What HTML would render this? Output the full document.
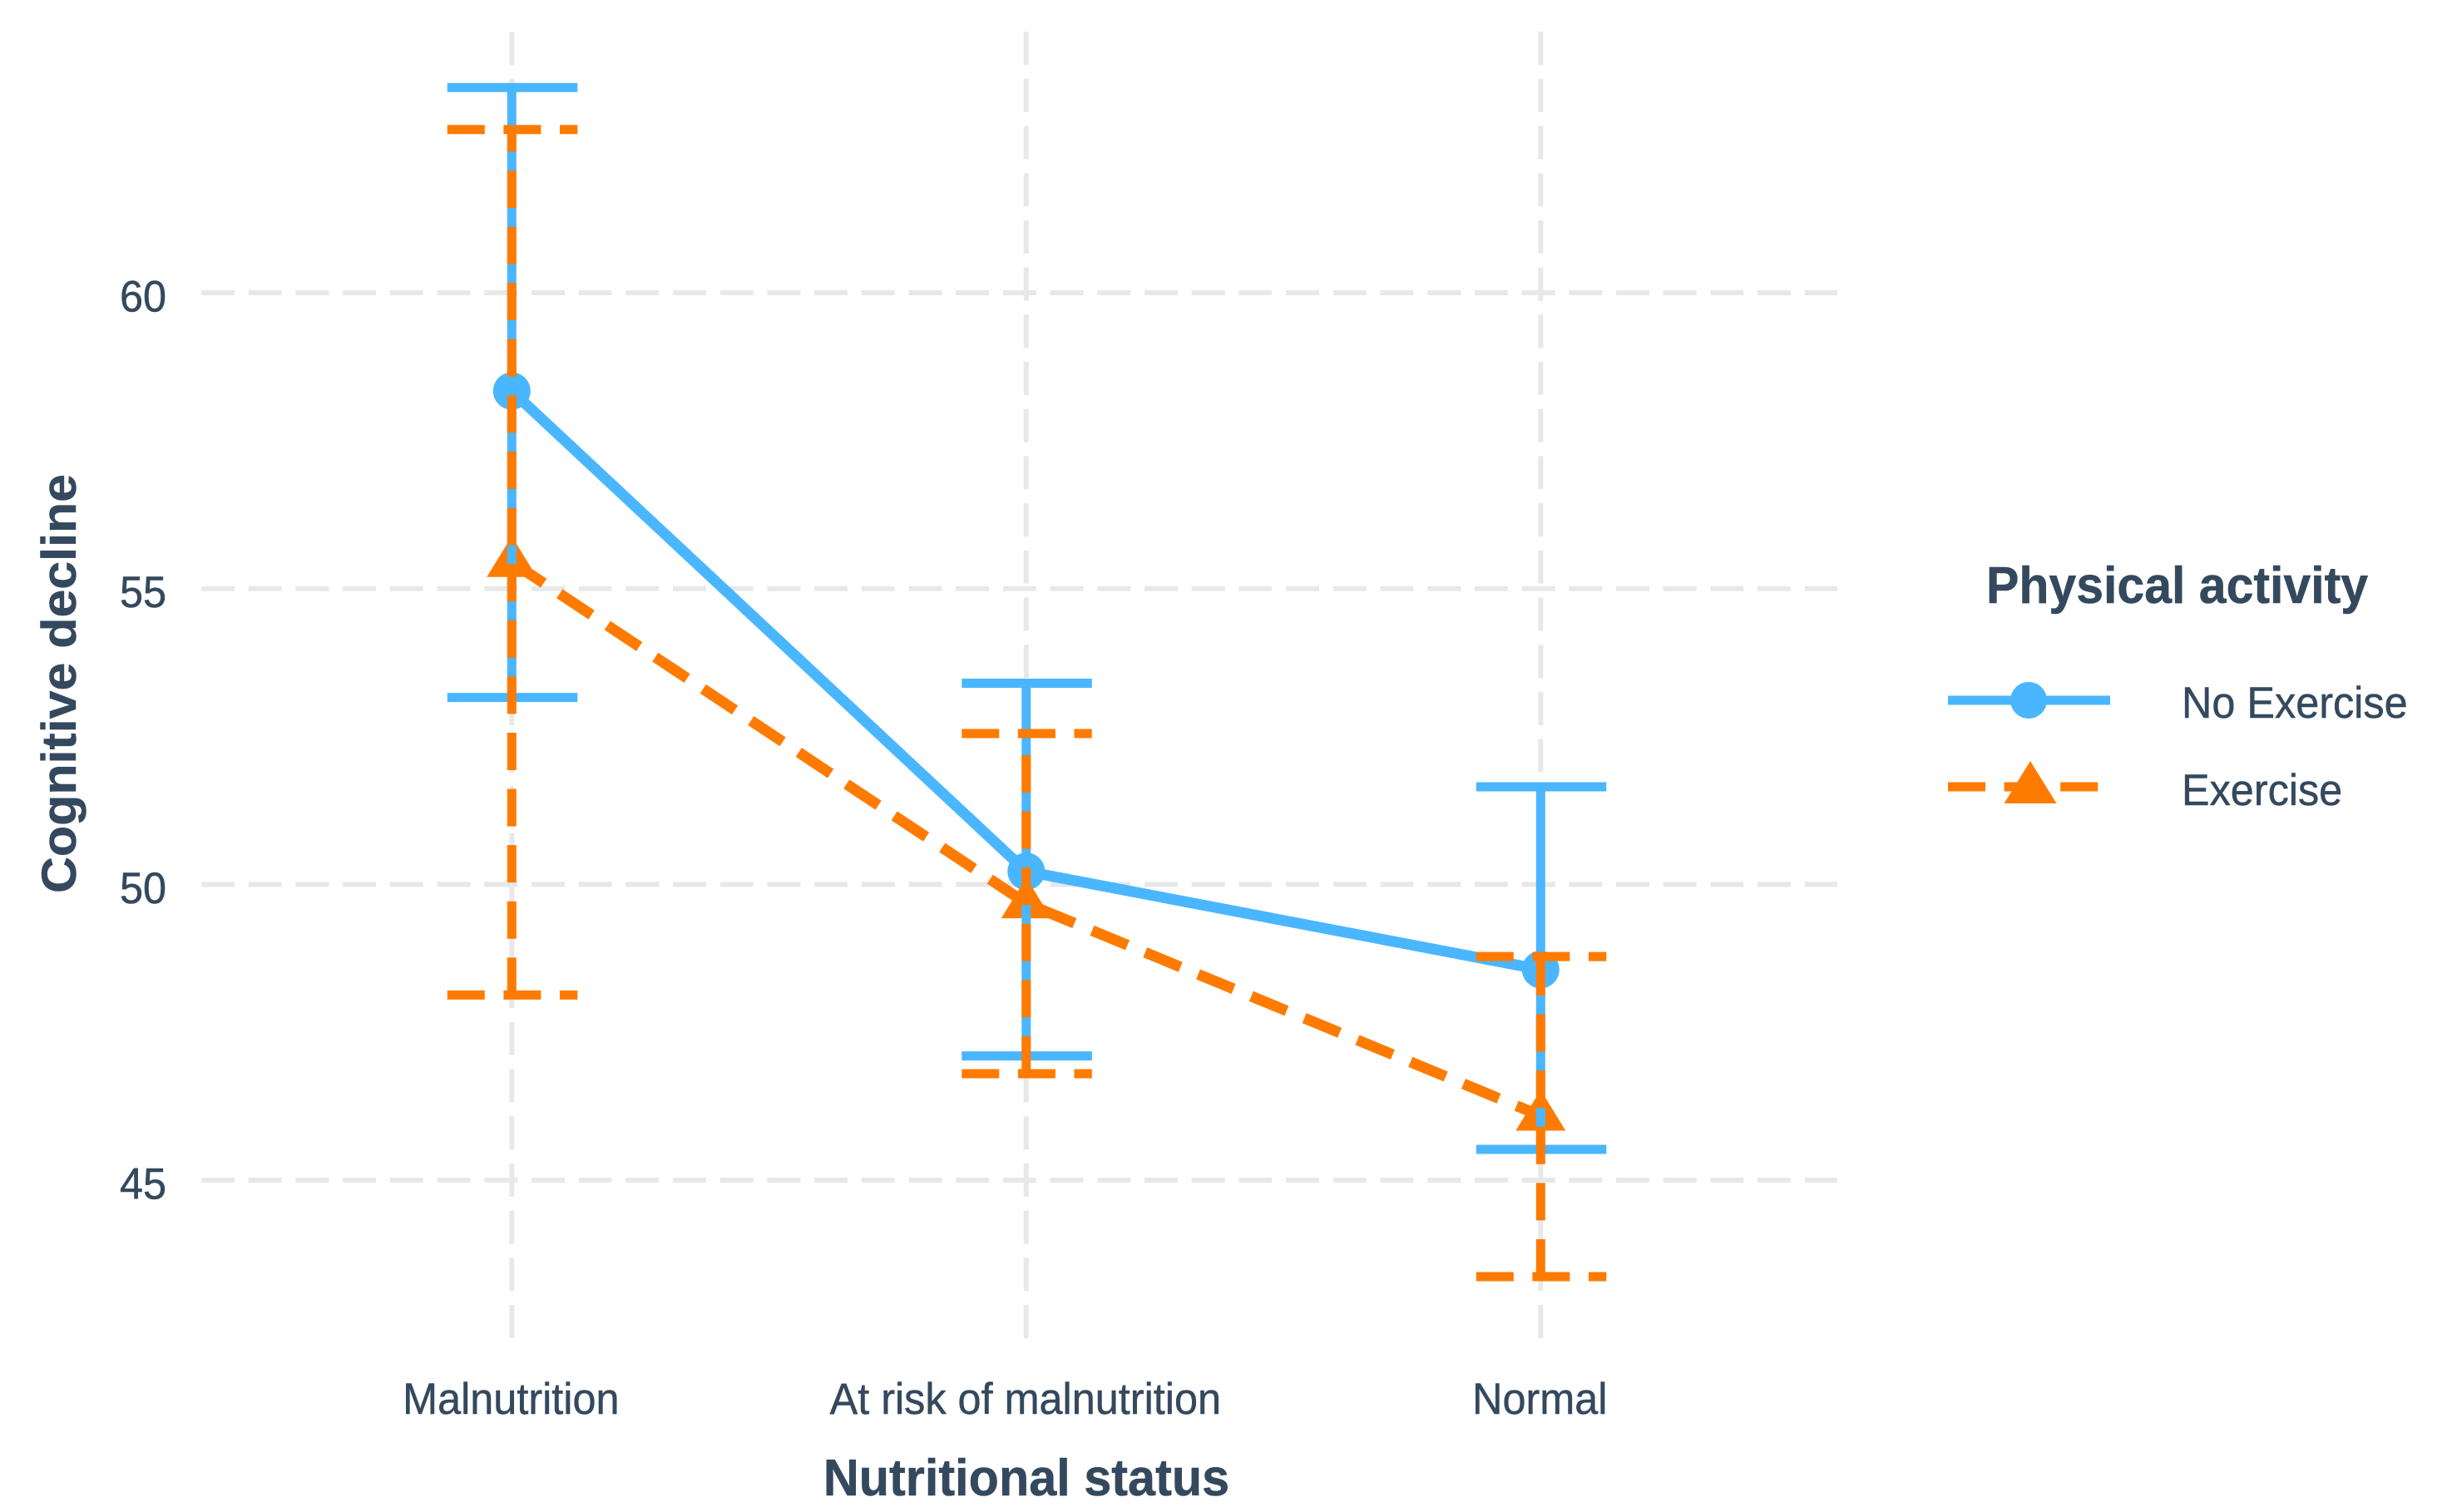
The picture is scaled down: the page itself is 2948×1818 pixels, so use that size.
<!DOCTYPE html>
<html lang="en">
<head>
<meta charset="utf-8">
<title>Cognitive decline by nutritional status and physical activity</title>
<style>
html,body{margin:0;padding:0;background:#fff;}
svg{display:block;}
text{font-family:"Liberation Sans",Arial,sans-serif;fill:#34495e;stroke:#34495e;stroke-width:0.5px;}
</style>
</head>
<body>
<svg id="chart" xmlns="http://www.w3.org/2000/svg" width="2948" height="1818" viewBox="0 0 2948 1818"></svg>
<script>
const categories = ["Malnutrition", "At risk of malnutrition", "Normal"];
const yTicks = [45, 50, 55, 60];
const noExerciseMean = [58.34, 50.22, 48.56];
const noExerciseUpper = [63.47, 53.40, 51.65];
const noExerciseLower = [53.16, 47.10, 45.52];
const exerciseMean = [55.45, 49.68, 46.09];
const exerciseUpper = [62.76, 52.55, 48.78];
const exerciseLower = [48.13, 46.80, 43.37];

const NS = "http://www.w3.org/2000/svg";
const svg = document.getElementById("chart");
const BLUE = "#4ab6ff", ORANGE = "#ff7b00", GRID = "#e8e8e8";
const SOLID = "none", DASH = "45 22.6", LINEDASH = "46 23", GRIDDASH = "40 16.7";
const PANEL = {left: 242, right: 2209, top: 38, bottom: 1609};
const TEXT_STRETCH = 1.05;

function xScale(i) { return 615.3 + i * 618.5; }
function yScale(v) { return 1419 - (v - 45) * 71.13; }

function make(tag, attrs, parent) {
  const el = document.createElementNS(NS, tag);
  for (const k in attrs) el.setAttribute(k, attrs[k]);
  (parent || svg).appendChild(el);
  return el;
}
function stroke(x1, y1, x2, y2, color, width, dash, parent) {
  return make("line", {x1, y1, x2, y2, stroke: color, "stroke-width": width, "stroke-dasharray": dash}, parent);
}
function label(str, x, y, size, anchor, bold, parent) {
  const el = make("text", {
    x: 0, y: 0, "font-size": size, "text-anchor": anchor,
    "font-weight": bold ? "bold" : "normal",
    transform: "translate(" + x + " " + y + ") scale(1 " + TEXT_STRETCH + ")"
  }, parent);
  el.textContent = str;
  return el;
}

/* grid */
const gridGroup = make("g", {});


yTicks.forEach(t => {
  const y = yScale(t);
  const g = stroke(PANEL.left, y, PANEL.right, y, GRID, 6, GRIDDASH, gridGroup);
  
  
});
categories.forEach((c, i) => {
  const x = xScale(i);
  const g = stroke(x, PANEL.bottom, x, PANEL.top, GRID, 6, GRIDDASH, gridGroup);
  
  
});

/* axis labels */
yTicks.forEach(t => {
  const el = label(t, 200, yScale(t) + 22.5, 50.4, "end", false);
  
  
});
categories.forEach((c, i) => {
  const el = label(c, xScale(i) - 1, 1700, 50.4, "middle", false);
  
  
});

/* connecting lines */
function drawLine(means, color, dash, name) {
  const pts = means.map((m, i) => xScale(i) + "," + yScale(m)).join(" ");
  const el = make("polyline", {points: pts, fill: "none", stroke: color, "stroke-width": 13, "stroke-dasharray": dash});
  
  
}
drawLine(noExerciseMean, BLUE, SOLID, 'no-exercise-line');
drawLine(exerciseMean, ORANGE, LINEDASH, 'exercise-line');

/* points */
function triangle(cx, cy, color, halfWidth, rise, parent) {
  return make("polygon", {
    points: (cx - halfWidth) + "," + (cy + 18) + " " + (cx + halfWidth) + "," + (cy + 18) + " " + cx + "," + (cy - rise),
    fill: color
  }, parent);
}
noExerciseMean.forEach((m, i) => {
  const el = make("circle", {cx: xScale(i), cy: yScale(m), r: 22.5, fill: BLUE});
  
  
});
exerciseMean.forEach((m, i) => {
  const el = triangle(xScale(i), yScale(m), ORANGE, 30, 31);
  
  
});

/* error bars */
function drawErrorBars(upper, lower, color, dash, name) {
  upper.forEach((u, i) => {
    const x = xScale(i), yT = yScale(u), yB = yScale(lower[i]);
    const g = make("g", {});
    
    
    stroke(x, yB, x, yT, color, 11, dash, g);
    stroke(x - 77.5, yT, x + 79, yT, color, 11, dash, g);
    stroke(x - 77.5, yB, x + 79, yB, color, 11, dash, g);
  });
}
drawErrorBars(noExerciseUpper, noExerciseLower, BLUE, SOLID, 'no-exercise-error-bar');
drawErrorBars(exerciseUpper, exerciseLower, ORANGE, DASH, 'exercise-error-bar');

/* axis titles */
const xTitle = label("Nutritional status", 1234, 1798, 59.4, "middle", true);



const yTitle = make("text", {x: 0, y: 0, "font-size": 58, "font-weight": "bold", "text-anchor": "middle", transform: "translate(91 822) scale(1 " + TEXT_STRETCH + ") rotate(-90)"});
yTitle.textContent = "Cognitive decline";



/* legend */
const legend = make("g", {});



const legendTitle = label("Physical activity", 2388, 725, 59, "start", true, legend);



const keyBlueLine = stroke(2342, 842, 2537, 842, BLUE, 11, SOLID, legend);


const keyBlueDot = make("circle", {cx: 2439, cy: 842, r: 22, fill: BLUE}, legend);


const labelBlue = label("No Exercise", 2623, 863, 50.4, "start", false, legend);



const keyOrangeLine = stroke(2342, 946, 2537, 946, ORANGE, 11, DASH, legend);


const keyTriangle = triangle(2441, 948, ORANGE, 31.5, 33, legend);


const labelOrange = label("Exercise", 2623, 968, 50.4, "start", false, legend);


</script>
</body>
</html>
